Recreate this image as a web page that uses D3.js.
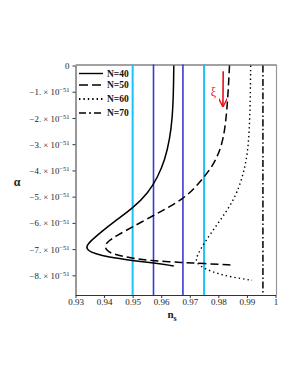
<!DOCTYPE html>
<html>
<head>
<meta charset="utf-8">
<script src="https://cdn.jsdelivr.net/npm/d3@7"></script>
<style>
  html, body { margin: 0; padding: 0; background: #fff; }
  svg { display: block; font-family: "Liberation Serif", "DejaVu Serif", serif; }
</style>
</head>
<body>
<div id="chart"></div>
<script>
// alpha values are in units of 1e-51
const xTicks = [0.93, 0.94, 0.95, 0.96, 0.97, 0.98, 0.99, 1];
const yTicks = [0, -1, -2, -3, -4, -5, -6, -7, -8];

const n40 = [[0.9644, 0], [0.9643, -1.0], [0.9639, -2.0], [0.9630, -2.8], [0.9613, -3.6],
  [0.9588, -4.25], [0.9555, -4.85], [0.9501, -5.44], [0.9434, -5.96], [0.9388, -6.36],
  [0.9352, -6.70], [0.9337, -6.90], [0.9343, -7.06], [0.9370, -7.18], [0.9411, -7.30],
  [0.9501, -7.44], [0.9574, -7.53], [0.9644, -7.64]];
const n50 = [[0.9839, 0], [0.9833, -1.32], [0.9822, -2.6], [0.9804, -3.3], [0.9778, -3.86],
  [0.9749, -4.26], [0.9714, -4.72], [0.9673, -5.10], [0.9621, -5.44], [0.9574, -5.71],
  [0.9501, -6.15], [0.9446, -6.47], [0.9414, -6.70], [0.9402, -6.88], [0.9408, -7.04],
  [0.9428, -7.19], [0.9501, -7.36], [0.9574, -7.45], [0.9673, -7.51], [0.9749, -7.55],
  [0.9850, -7.61]];
const n60 = [[0.9913, 0], [0.9912, -1.32], [0.9907, -2.9], [0.9895, -3.86], [0.9866, -4.88],
  [0.9831, -5.52], [0.9790, -6.15], [0.9749, -6.79], [0.9726, -7.23], [0.9719, -7.50],
  [0.9749, -7.74], [0.9796, -7.93], [0.9843, -8.06], [0.9918, -8.19]];
const n70 = [[0.9956, 0], [0.9956, -4.4], [0.9956, -8.75]];

const series = [
  { name: "N=40", data: n40, dash: null },
  { name: "N=50", data: n50, dash: "8,4" },
  { name: "N=60", data: n60, dash: "1.4,3" },
  { name: "N=70", data: n70, dash: "7,2.5,1.5,2.5" }
];

const cyanLines = [0.95, 0.975];
const blueLines = [0.9573, 0.9676];

// xi arrow annotation (data coords)
const arrowFrom = [0.9817, -0.22];
const arrowTo = [0.9816, -1.55];
const xiPos = [0.9783, -1.0];

const W = 298, H = 385;
const m = { left: 75.5, right: 275.5, top: 65.5, bottom: 295 };

const svg = d3.select("#chart").append("svg")
  .attr("width", W).attr("height", H);

const x = d3.scaleLinear().domain([0.93, 1.0]).range([m.left, m.right]);
const y = d3.scaleLinear().domain([0, -8.75]).range([m.top, m.bottom]);

// frame (top and right)
svg.append("line").attr("x1", m.left).attr("x2", m.right + 1).attr("y1", m.top - 0.5).attr("y2", m.top - 0.5)
  .attr("stroke", "#444").attr("stroke-width", 1);
svg.append("line").attr("x1", m.right + 1).attr("x2", m.right + 1).attr("y1", m.top - 1).attr("y2", m.bottom)
  .attr("stroke", "#999").attr("stroke-width", 1.2);

// vertical reference lines
svg.selectAll(".cyan").data(cyanLines).join("line")
  .attr("x1", d => x(d)).attr("x2", d => x(d))
  .attr("y1", m.top - 1).attr("y2", m.bottom)
  .attr("stroke", "#19c3f5").attr("stroke-width", 2);
svg.selectAll(".blue").data(blueLines).join("line")
  .attr("x1", d => x(d)).attr("x2", d => x(d))
  .attr("y1", m.top - 1).attr("y2", m.bottom)
  .attr("stroke", "#3a3ad0").attr("stroke-width", 1.6);

// curves
const line = d3.line().x(d => x(d[0])).y(d => y(d[1])).curve(d3.curveBasis);
series.forEach(s => {
  svg.append("path").datum(s.data)
    .attr("fill", "none").attr("stroke", "#000")
    .attr("stroke-width", s.dash === "1.4,3" ? 1.4 : 1.5)
    .attr("stroke-dasharray", s.dash)
    .attr("d", line);
});

// axes
const xAxis = svg.append("g").attr("transform", `translate(0,${m.bottom})`)
  .call(d3.axisBottom(x).tickValues(xTicks).tickSize(3).tickSizeOuter(0).tickFormat(d3.format("")));
xAxis.select(".domain").attr("stroke", "#333");
xAxis.selectAll(".tick line").attr("stroke", "#333");
xAxis.selectAll(".tick text").attr("dy", "0.55em").attr("y", 5)
  .style("font-size", "9px").style("font-family", "Liberation Serif, serif").attr("fill", "#222");

const yAxis = svg.append("g").attr("transform", `translate(${m.left},0)`)
  .call(d3.axisLeft(y).tickValues(yTicks).tickSize(3).tickSizeOuter(0).tickFormat(""));
yAxis.select(".domain").attr("stroke", "#333");
yAxis.selectAll(".tick line").attr("stroke", "#333");
yAxis.selectAll(".tick").each(function (d) {
  const t = d3.select(this).append("text")
    .attr("x", -6).attr("dy", "0.35em")
    .attr("text-anchor", "end").attr("fill", "#222")
    .style("font-size", "8.8px").style("font-family", "Liberation Serif, serif");
  if (d === 0) {
    t.text("0");
  } else {
    t.append("tspan").text("\u2212" + Math.abs(d) + ". \u00d7 10");
    t.append("tspan").attr("dy", "-0.45em").style("font-size", "6.5px").text("\u221251");
  }
});

// axis titles
svg.append("text").attr("x", 17).attr("y", 186)
  .attr("text-anchor", "middle").attr("fill", "#222")
  .style("font-size", "12px").style("font-weight", "bold")
  .text("\u03b1");
const xt = svg.append("text").attr("x", 172).attr("y", 318).attr("fill", "#222")
  .attr("text-anchor", "middle").style("font-size", "11px").style("font-weight", "bold");
xt.append("tspan").text("n");
xt.append("tspan").attr("dy", "3").style("font-size", "8px").text("s");

// legend
const legendY = [73.5, 85, 99, 113];
const lg = svg.append("g");
series.forEach((s, i) => {
  lg.append("line").attr("x1", 79).attr("x2", 103)
    .attr("y1", legendY[i]).attr("y2", legendY[i])
    .attr("stroke", "#000").attr("stroke-width", s.dash === "1.4,3" ? 1.8 : 1.4)
    .attr("stroke-dasharray", s.dash === "8,4" ? "9,4" : s.dash === "7,2.5,1.5,2.5" ? "7,3,2,3" : s.dash);
  lg.append("text").attr("x", 107).attr("y", legendY[i]).attr("dy", "0.35em").attr("fill", "#111")
    .style("font-size", "9.5px").style("font-weight", "bold").text(s.name);
});

// xi arrow
svg.append("defs").append("marker").attr("id", "arr")
  .attr("viewBox", "0 0 10 10").attr("refX", 9).attr("refY", 5)
  .attr("markerWidth", 5.5).attr("markerHeight", 5.5).attr("orient", "auto")
  .append("path").attr("d", "M0,0 L10,5 L0,10").attr("fill", "none")
  .attr("stroke", "#e8101a").attr("stroke-width", 1.6);
svg.append("line")
  .attr("x1", x(arrowFrom[0])).attr("y1", y(arrowFrom[1]))
  .attr("x2", x(arrowTo[0])).attr("y2", y(arrowTo[1]))
  .attr("stroke", "#e8101a").attr("stroke-width", 1.6)
  .attr("marker-end", "url(#arr)");
svg.append("text").attr("x", x(xiPos[0])).attr("y", y(xiPos[1]))
  .attr("text-anchor", "middle").attr("dy", "0.35em")
  .attr("fill", "#e8101a").style("font-size", "12px").text("\u03be");
</script>
</body>
</html>
